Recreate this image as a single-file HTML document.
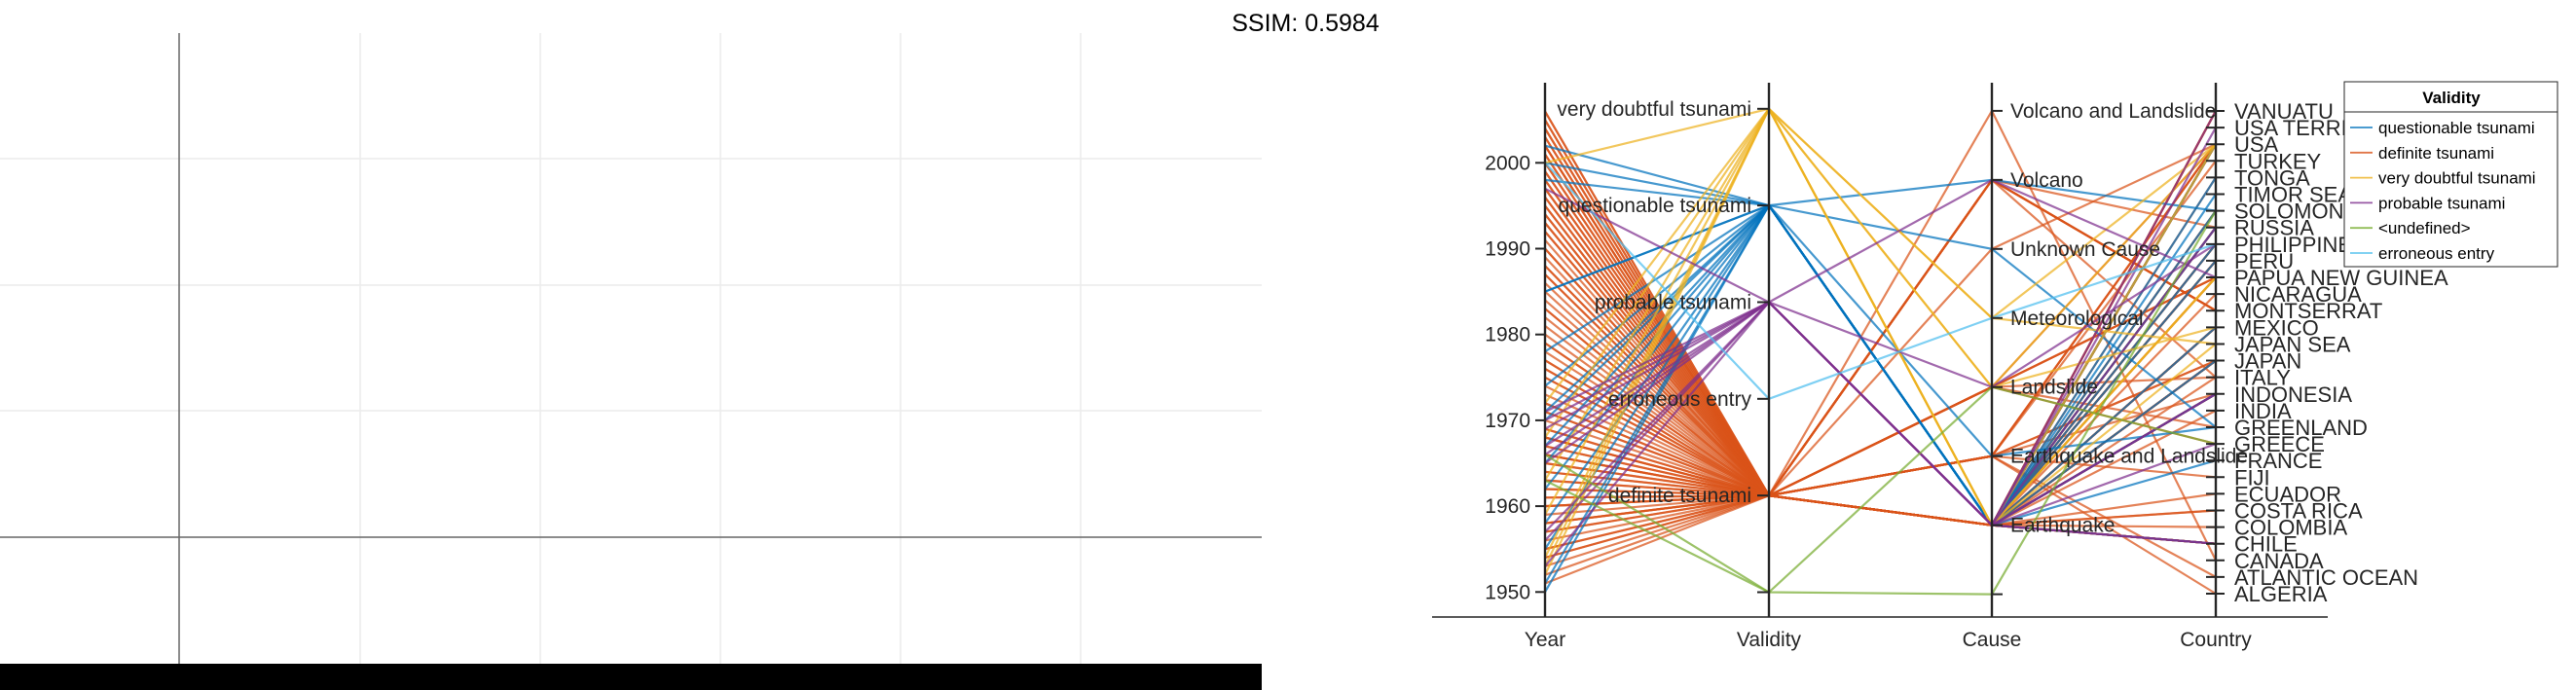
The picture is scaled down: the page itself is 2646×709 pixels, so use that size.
<!DOCTYPE html>
<html><head><meta charset="utf-8"><style>
html,body{margin:0;padding:0;background:#fff;width:2646px;height:709px;overflow:hidden;}
svg{display:block;font-family:"Liberation Sans",sans-serif;}
</style></head><body>
<svg id="root" width="2646" height="709" viewBox="0 0 2646 709">
  <g>
    <g stroke="#ececec" stroke-width="1.5">
      <line x1="0" y1="163" x2="1296" y2="163"/>
      <line x1="0" y1="293" x2="1296" y2="293"/>
      <line x1="0" y1="422" x2="1296" y2="422"/>
      <line x1="370" y1="34" x2="370" y2="682"/>
      <line x1="555" y1="34" x2="555" y2="682"/>
      <line x1="740" y1="34" x2="740" y2="682"/>
      <line x1="925" y1="34" x2="925" y2="682"/>
      <line x1="1110" y1="34" x2="1110" y2="682"/>
    </g>
    <line x1="184" y1="34" x2="184" y2="682" stroke="#666" stroke-width="1.5"/>
    <line x1="0" y1="552" x2="1296" y2="552" stroke="#666" stroke-width="1.5"/>
    <rect x="0" y="682" width="1296" height="27" fill="#000"/>
  </g>
  <text x="1341" y="32" text-anchor="middle" font-size="25" fill="#000">SSIM: 0.5984</text>
  <g id="plot"></g>
</svg>
<script>
const validityCats = ["<undefined>","definite tsunami","erroneous entry","probable tsunami","questionable tsunami","very doubtful tsunami"];
const causeCats = ["","Earthquake","Earthquake and Landslide","Landslide","Meteorological","Unknown Cause","Volcano","Volcano and Landslide"];
const countryCats = ["ALGERIA","ATLANTIC OCEAN","CANADA","CHILE","COLOMBIA","COSTA RICA","ECUADOR","FIJI","FRANCE","GREECE","GREENLAND","INDIA","INDONESIA","ITALY","JAPAN","JAPAN SEA","MEXICO","MONTSERRAT","NICARAGUA","PAPUA NEW GUINEA","PERU","PHILIPPINES","RUSSIA","SOLOMON","TIMOR SEA","TONGA","TURKEY","USA","USA TERRITORY","VANUATU"];
const yearTicks = [1950,1960,1970,1980,1990,2000];
const axisNames = ["Year","Validity","Cause","Country"];
const legendOrder = [4,1,5,3,0,2];
const validityColors = ["#77AC30","#D95319","#4DBEEE","#7E2F8E","#0072BD","#EDB120"];
// records: year, validity index, cause index, country index
const years = [1951,1952,1953,1954,1955,1956,1957,1958,1958,1959,1960,1960,1961,1962,1963,1964,1964,1965,1965,1966,1966,1967,1968,1968,1969,1969,1970,1971,1972,1973,1974,1975,1975,1976,1977,1978,1979,1979,1980,1981,1982,1983,1984,1985,1986,1987,1988,1989,1990,1991,1992,1992,1993,1994,1994,1995,1995,1996,1996,1997,1998,1998,1999,1999,2000,2000,2001,2001,2002,2002,2003,2003,2004,2004,2005,2005,2006,2006,1962,1963,1957,1954,1958,1967,
 1955,1960,1968,1972,1976,1983,1988,1993,1997,2002,1961,1966,1971,1977,1987,1990,
 1950,1951,1958,1965,1971,1978,1985,1985,1998,2000,2002,1974,1962,1955,1967,1970,
 1952,1953,1954,1959,1963,1968,1972,2000,
 1953,1956,1957,1966,1967,1970,1997,1969,1965,1971,
 1963,1966,
 2000];
const validity = [1,1,1,1,1,1,1,1,1,1,1,1,1,1,1,1,1,1,1,1,1,1,1,1,1,1,1,1,1,1,1,1,1,1,1,1,1,1,1,1,1,1,1,1,1,1,1,1,1,1,1,1,1,1,1,1,1,1,1,1,1,1,1,1,1,1,1,1,1,1,1,1,1,1,1,1,1,1,1,1,1,1,1,1,
 1,1,1,1,1,1,1,1,1,1,1,1,1,1,1,1,
 4,4,4,4,4,4,4,4,4,4,4,4,4,4,4,4,
 5,5,5,5,5,5,5,5,
 3,3,3,3,3,3,3,3,3,3,
 0,0,
 2];
const cause = [1,1,1,1,1,1,1,2,1,1,1,1,1,1,1,1,2,1,1,1,1,1,1,1,1,1,1,1,1,1,1,1,3,1,1,1,2,1,3,1,1,1,1,1,1,1,1,1,1,1,1,1,1,1,1,1,1,1,1,6,3,1,1,2,1,6,1,1,7,6,6,1,1,1,1,5,6,1,2,2,3,2,6,3,
 1,1,1,1,1,1,1,1,6,6,2,2,2,3,3,1,
 1,1,1,1,1,1,2,1,6,5,1,1,1,1,1,1,
 1,4,3,1,1,3,4,1,
 1,1,1,1,3,6,1,1,1,1,
 0,3,
 4];
const country = [3,14,12,20,27,12,27,27,3,21,3,14,29,3,12,27,27,22,12,20,23,14,14,19,13,3,6,3,5,16,20,27,19,21,12,16,7,4,27,29,16,14,22,16,27,27,19,27,21,5,18,12,14,12,21,16,22,20,12,17,19,19,29,26,23,17,20,12,2,13,17,27,12,11,12,27,17,25,1,0,9,14,22,10,
 3,12,27,14,20,16,22,3,17,17,27,12,14,19,13,29,
 3,14,12,20,24,25,10,21,23,10,23,27,8,16,12,22,
 27,27,16,15,19,27,15,19,
 12,9,3,28,21,19,12,29,3,22,
 23,9,
 21];

const NS = "http://www.w3.org/2000/svg";
const plot = document.getElementById("plot");
function mk(tag, attrs, parent){const e=document.createElementNS(NS,tag);for(const k in attrs)e.setAttribute(k,attrs[k]);(parent||plot).appendChild(e);return e;}

const axisX = [1587,1817,2046,2276];
const TOP=85, BASE=634;
function yYear(v){return 608.3 - (v-1950)*(608.3-167.3)/50;}
function yValidity(i){return 608.5 - i*(608.5-111.8)/(validityCats.length-1);}
function yCause(i){return 610.6 - i*(610.6-113.9)/(causeCats.length-1);}
function yCountry(i){return 610 - i*(610-114)/(countryCats.length-1);}

const lineG = mk("g",{fill:"none"});
for(let r=0;r<years.length;r++){
  const pts=[[axisX[0],yYear(years[r])],[axisX[1],yValidity(validity[r])],[axisX[2],yCause(cause[r])],[axisX[3],yCountry(country[r])]];
  const pl = mk("polyline",{points:pts.map(p=>p[0].toFixed(1)+","+p[1].toFixed(1)).join(" "),stroke:validityColors[validity[r]],"stroke-width":"2.2","stroke-opacity":"0.72"},lineG);
  
  
}

const bl = mk("line",{x1:1471,y1:BASE,x2:2391,y2:BASE,stroke:"#262626","stroke-width":"1.5"});



for(let a=0;a<4;a++){
  const ax = mk("line",{x1:axisX[a],y1:TOP,x2:axisX[a],y2:BASE,stroke:"#262626","stroke-width":"2.4"});
  
  
  const t = mk("text",{x:axisX[a],y:664,"text-anchor":"middle","font-size":"21",fill:"#262626"});
  t.textContent = axisNames[a];
  
  
}
const tk = {stroke:"#262626","stroke-width":"2"};
yearTicks.forEach(v=>{
  const y=yYear(v);
  mk("line",Object.assign({x1:axisX[0]-10,y1:y,x2:axisX[0],y2:y},tk));
  const t=mk("text",{x:axisX[0]-15,y:y+7,"text-anchor":"end","font-size":"21",fill:"#262626"});
  t.textContent=v;
  
  
});
validityCats.forEach((c,i)=>{
  const y=yValidity(i);
  mk("line",Object.assign({x1:axisX[1]-12,y1:y,x2:axisX[1],y2:y},tk));
  if(c==="<undefined>") return;
  const t=mk("text",{x:axisX[1]-18,y:y+7,"text-anchor":"end","font-size":"21",fill:"#262626"});
  t.textContent=c;
  
  
});
causeCats.forEach((c,i)=>{
  const y=yCause(i);
  mk("line",Object.assign({x1:axisX[2],y1:y,x2:axisX[2]+11,y2:y},tk));
  if(!c) return;
  const t=mk("text",{x:axisX[2]+19,y:y+7,"font-size":"21",fill:"#262626"});
  t.textContent=c;
  
  
});
countryCats.forEach((c,i)=>{
  const y=yCountry(i);
  mk("line",Object.assign({x1:axisX[3]-10,y1:y,x2:axisX[3]+9,y2:y},tk));
  const t=mk("text",{x:axisX[3]+19,y:y+8,"font-size":"22",fill:"#262626"});
  t.textContent=c;
  
  
});

const lg = mk("g",{});


mk("rect",{x:2408,y:84,width:219,height:190,fill:"#fff",stroke:"#262626","stroke-width":"1"},lg);
mk("line",{x1:2408,y1:115,x2:2627,y2:115,stroke:"#262626","stroke-width":"1"},lg);
const lt = mk("text",{x:2518,y:106,"text-anchor":"middle","font-size":"17","font-weight":"bold",fill:"#000"},lg);
lt.textContent="Validity";


legendOrder.forEach((vi,k)=>{
  const y=131+k*25.8;
  const e=mk("g",{},lg);
  
  
  mk("line",{x1:2414,y1:y,x2:2437,y2:y,stroke:validityColors[vi],"stroke-width":"1.8","stroke-opacity":"0.8"},e);
  const t=mk("text",{x:2443,y:y+6,"font-size":"17",fill:"#000"},e);
  t.textContent=validityCats[vi];
});
</script>
</body></html>
